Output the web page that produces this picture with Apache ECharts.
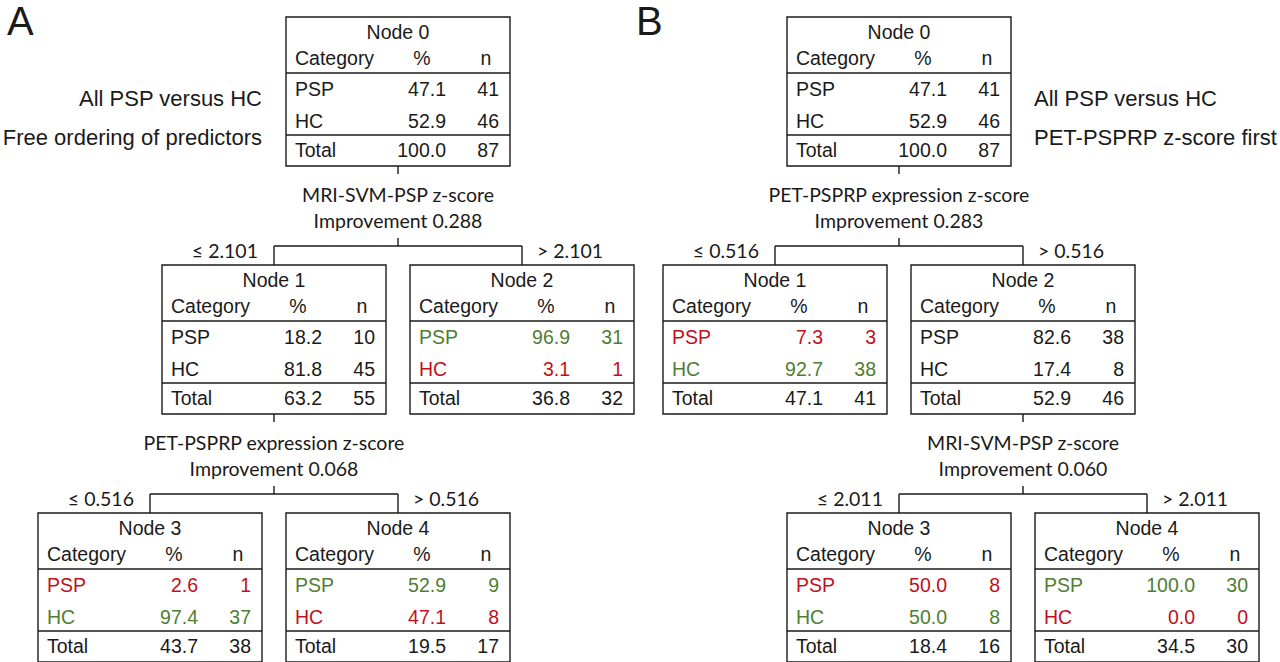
<!DOCTYPE html>
<html style="height: 100%">
<head>
<meta charset="utf-8">
<script src="https://cdn.jsdelivr.net/npm/echarts@6/dist/echarts.min.js"></script>
</head>
<body style="height: 100%; margin: 0; background: #fff">
<div id="container" style="width: 1280px; height: 662px"></div>
<script type="text/javascript">
// ---- data ----
var panelNames = ['A', 'B'];
var panelNotes = [
	['All PSP versus HC', 'Free ordering of predictors'],
	['All PSP versus HC', 'PET-PSPRP z-score first']
];
var categories = ['PSP', 'HC', 'Total'];
// parent of node 0..4 in each tree
var nodeParent = [[-1, 0, 0, 1, 1], [-1, 0, 0, 2, 2]];
var nodePct = [
	[[47.1, 52.9, 100.0], [18.2, 81.8, 63.2], [96.9, 3.1, 36.8], [2.6, 97.4, 43.7], [52.9, 47.1, 19.5]],
	[[47.1, 52.9, 100.0], [7.3, 92.7, 47.1], [82.6, 17.4, 52.9], [50.0, 50.0, 18.4], [100.0, 0.0, 34.5]]
];
var nodeN = [
	[[41, 46, 87], [10, 45, 55], [31, 1, 32], [1, 37, 38], [9, 8, 17]],
	[[41, 46, 87], [3, 38, 41], [38, 8, 46], [8, 8, 16], [30, 0, 30]]
];
// 1 = correctly classified, -1 = misclassified, 0 = not marked
var nodeVerdict = [
	[[0, 0], [0, 0], [1, -1], [-1, 1], [1, -1]],
	[[0, 0], [-1, 1], [0, 0], [-1, 1], [1, -1]]
];
var splitNode = [[0, 1], [0, 2]];
var splitVariable = [
	['MRI-SVM-PSP z-score', 'PET-PSPRP expression z-score'],
	['PET-PSPRP expression z-score', 'MRI-SVM-PSP z-score']
];
var splitImprovement = [['0.288', '0.068'], ['0.283', '0.060']];
var splitCut = [['2.101', '0.516'], ['0.516', '2.011']];

// ---- layout (pixels on the hidden axes) ----
var L = { rootX: [398, 899], top: 17, levelGap: 248, childDx: 124, boxW: 224, boxH: 149 };
var INK = '#1a1a1a', GREEN = '#4f7d31', RED = '#c0101c';
var TABLE_FONT = "'Liberation Sans', Arial, sans-serif";
var SPLIT_FONT = "Lato, 'Open Sans', sans-serif";

// node positions derived from the tree structure
var pos = panelNames.map(function (name, p) {
	var out = [];
	nodeParent[p].forEach(function (par, k) {
		if (par < 0) {
			out[k] = { x: L.rootX[p], depth: 0 };
		} else {
			var sibs = nodeParent[p].map(function (q, j) { return q === par ? j : -1; }).filter(function (j) { return j >= 0; });
			var side = sibs.indexOf(k) === 0 ? -1 : 1;
			out[k] = { x: out[par].x + side * L.childDx, depth: out[par].depth + 1 };
		}
		out[k].top = L.top + out[k].depth * L.levelGap;
	});
	return out;
});

var nodeItems = [];
pos.forEach(function (list, p) {
	list.forEach(function (n, k) { nodeItems.push([n.x, n.top, p, k]); });
});
var splitItems = [];
splitNode.forEach(function (list, p) {
	list.forEach(function (k, s) {
		var kids = nodeParent[p].map(function (q, j) { return q === k ? j : -1; }).filter(function (j) { return j >= 0; });
		splitItems.push([pos[p][k].x, pos[p][k].top + L.boxH, pos[p][kids[0]].x, pos[p][kids[1]].x, pos[p][kids[0]].top, p, s]);
	});
});
var noteItems = panelNames.map(function (name, p) { return [pos[p][0].x, pos[p][0].top, p]; });

function txt(x, y, s, opt) {
	var va = opt.valign || 'middle';
	return {
		type: 'text',
		style: {
			x: x, y: y, text: s,
			fill: opt.fill || INK,
			font: opt.font,
			align: opt.align || 'left', textAlign: opt.align || 'left',
			verticalAlign: va, textVerticalAlign: va
		}
	};
}
function seg(x1, y1, x2, y2) {
	return { type: 'line', shape: { x1: x1, y1: y1, x2: x2, y2: y2 }, style: { stroke: INK, lineWidth: 1.4 } };
}

function renderNode(params, api) {
	var p = api.value(2), k = api.value(3);
	var tl = api.coord([api.value(0) - L.boxW / 2, api.value(1)]);
	var br = api.coord([api.value(0) + L.boxW / 2, api.value(1) + L.boxH]);
	var sx = (br[0] - tl[0]) / L.boxW, sy = (br[1] - tl[1]) / L.boxH;
	var X = function (v) { return tl[0] + v * sx; };
	var Y = function (v) { return tl[1] + v * sy; };
	var f = '19.5px ' + TABLE_FONT;
	var kids = [
		{ type: 'rect', shape: { x: tl[0], y: tl[1], width: br[0] - tl[0], height: br[1] - tl[1] }, style: { fill: '#fff', stroke: INK, lineWidth: 1.4 } },
		seg(tl[0], Y(56), br[0], Y(56)),
		seg(tl[0], Y(118), br[0], Y(118)),
		txt(X(112), Y(15), 'Node ' + k, { font: f, align: 'center' }),
		txt(X(9), Y(41), 'Category', { font: f }),
		txt(X(136), Y(41), '%', { font: f, align: 'center' }),
		txt(X(200), Y(41), 'n', { font: f, align: 'center' })
	];
	var rowY = [72, 104, 133];
	categories.forEach(function (c, r) {
		var v = r < 2 ? nodeVerdict[p][k][r] : 0;
		var col = v > 0 ? GREEN : (v < 0 ? RED : INK);
		kids.push(txt(X(9), Y(rowY[r]), c, { font: f, fill: col }));
		kids.push(txt(X(160), Y(rowY[r]), nodePct[p][k][r].toFixed(1), { font: f, fill: col, align: 'right' }));
		kids.push(txt(X(213), Y(rowY[r]), String(nodeN[p][k][r]), { font: f, fill: col, align: 'right' }));
	});
	return { type: 'group', children: kids };
}

function renderSplit(params, api) {
	var p = api.value(5), s = api.value(6);
	var top = api.coord([api.value(0), api.value(1)]);
	var lx = api.coord([api.value(2), 0])[0], rx = api.coord([api.value(3), 0])[0];
	var ct = api.coord([0, api.value(4)])[1];
	var px = top[0], b = top[1];
	var f = '19.5px ' + SPLIT_FONT;
	var by = b + 80;
	return {
		type: 'group',
		children: [
			seg(px, b, px, b + 8),
			txt(px, b + 28, splitVariable[p][s], { font: f, align: 'center' }),
			txt(px, b + 54, 'Improvement ' + splitImprovement[p][s], { font: f, align: 'center' }),
			seg(px, b + 72, px, by),
			seg(lx, by, rx, by),
			seg(lx, by, lx, ct),
			seg(rx, by, rx, ct),
			txt(lx - 16, by + 4, '\u2264 ' + splitCut[p][s], { font: f, align: 'right' }),
			txt(rx + 15, by + 4, '> ' + splitCut[p][s], { font: f })
		]
	};
}

function renderNote(params, api) {
	var p = api.value(2);
	var tl = api.coord([api.value(0) - L.boxW / 2, api.value(1)]);
	var br = api.coord([api.value(0) + L.boxW / 2, api.value(1)]);
	var f = '22px ' + TABLE_FONT;
	var left = p === 0;
	var ax = left ? tl[0] - 24 : br[0] + 23;
	var letter = api.coord([p === 0 ? 7 : 636, 1]);
	return {
		type: 'group',
		children: [
			txt(letter[0], letter[1], panelNames[p], { font: '40px ' + TABLE_FONT, valign: 'top' }),
			txt(ax, tl[1] + 81, panelNotes[p][0], { font: f, align: left ? 'right' : 'left' }),
			txt(ax, tl[1] + 120, panelNotes[p][1], { font: f, align: left ? 'right' : 'left' })
		]
	};
}

var dom = document.getElementById('container');
var myChart = echarts.init(dom, null, { renderer: 'svg' });
var option = {
	backgroundColor: '#ffffff',
	animation: false,
	grid: { left: 0, right: 0, top: 0, bottom: 0 },
	xAxis: { type: 'value', min: 0, max: 1280, show: false },
	yAxis: { type: 'value', min: 0, max: 662, inverse: true, show: false },
	series: [
		{ type: 'custom', name: 'splits', renderItem: renderSplit, data: splitItems, silent: true },
		{ type: 'custom', name: 'nodes', renderItem: renderNode, data: nodeItems, silent: true },
		{ type: 'custom', name: 'notes', renderItem: renderNote, data: noteItems, silent: true }
	]
};
myChart.setOption(option);
</script>
</body>
</html>
